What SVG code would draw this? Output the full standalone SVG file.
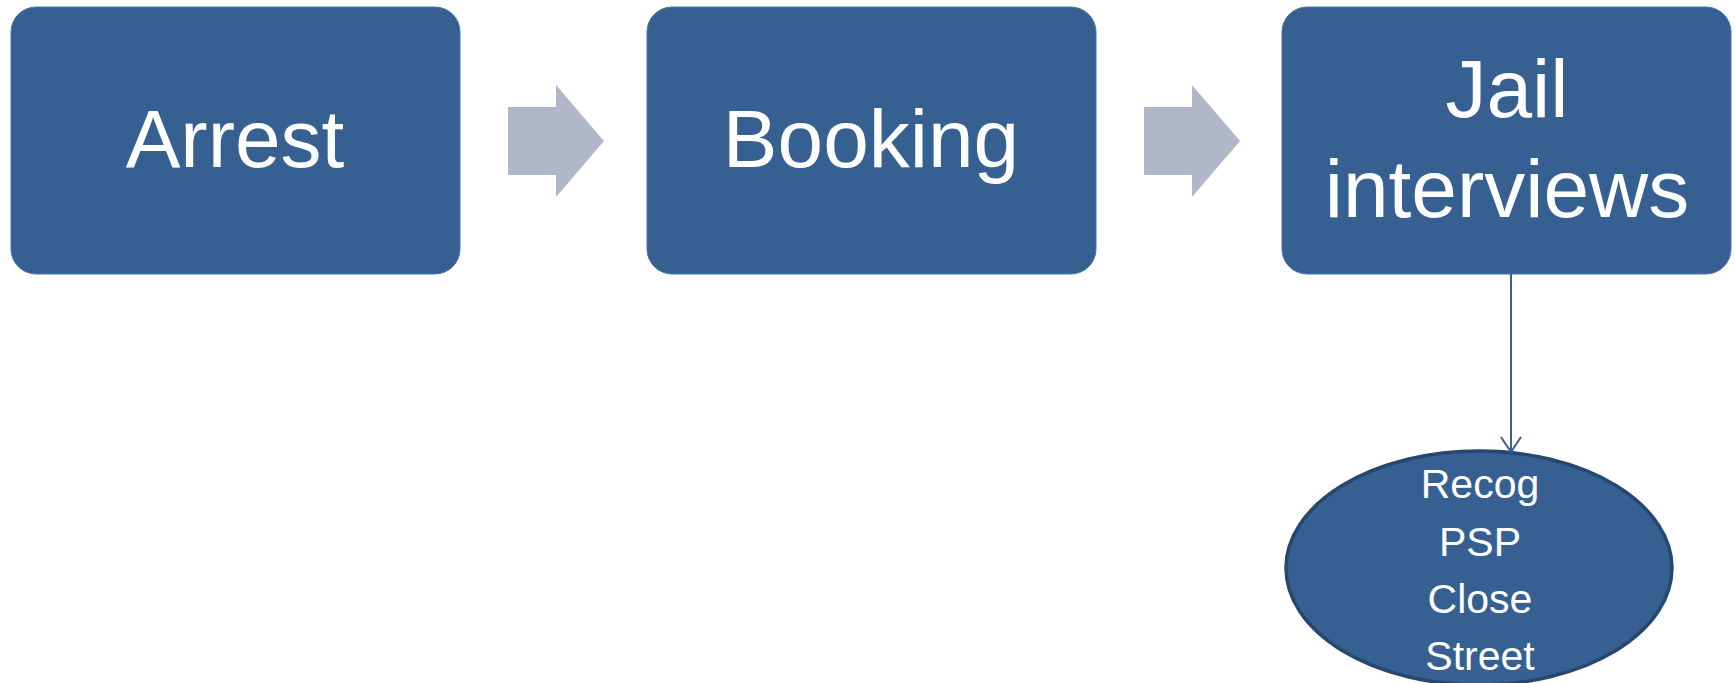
<svg xmlns="http://www.w3.org/2000/svg" width="1735" height="683" viewBox="0 0 1735 683">
<style>
.box{fill:#366092;stroke:#4A74A8;stroke-width:1}
.big{font-family:"Liberation Sans",Arial,sans-serif;font-size:82px;fill:#fff;text-anchor:middle}
.small{font-family:"Liberation Sans",Arial,sans-serif;font-size:41px;fill:#fff;text-anchor:middle}
.flow{fill:#B0B7C9}
</style>
<defs>
<marker id="open" markerWidth="18" markerHeight="22" refX="16" refY="11" orient="auto" markerUnits="userSpaceOnUse" viewBox="0 0 18 22">
<path d="M1,1 L16,11 L1,21" fill="none" stroke="#366092" stroke-width="2"/>
</marker>
</defs>
<rect width="1735" height="683" fill="#fff"/>
<g id="arrest">
<rect class="box" x="11" y="7" width="449" height="267" rx="25"/>
<text class="big" x="235" y="167">Arrest</text>
</g>
<g id="booking">
<rect class="box" x="647" y="7" width="449" height="267" rx="25"/>
<text class="big" x="871" y="167">Booking</text>
</g>
<g id="jail">
<rect class="box" x="1282" y="7" width="449" height="267" rx="25"/>
<text class="big" x="1507" y="117">Jail</text>
<text class="big" x="1507" y="217">interviews</text>
</g>
<g id="methods">
<ellipse cx="1479" cy="568" rx="193" ry="117" fill="#366092" stroke="#254770" stroke-width="3.5"/>
<text class="small" x="1480" y="498">Recog</text>
<text class="small" x="1480" y="556">PSP</text>
<text class="small" x="1480" y="613">Close</text>
<text class="small" x="1480" y="670">Street</text>
</g>
<g id="connectors">
<polygon class="flow" points="508,107 556,107 556,85 604,141 556,197 556,175 508,175"/>
<polygon class="flow" points="1144,107 1192,107 1192,85 1240,141 1192,197 1192,175 1144,175"/>
<line x1="1511" y1="274" x2="1511" y2="452" stroke="#366092" stroke-width="2" marker-end="url(#open)"/>
</g>
</svg>
